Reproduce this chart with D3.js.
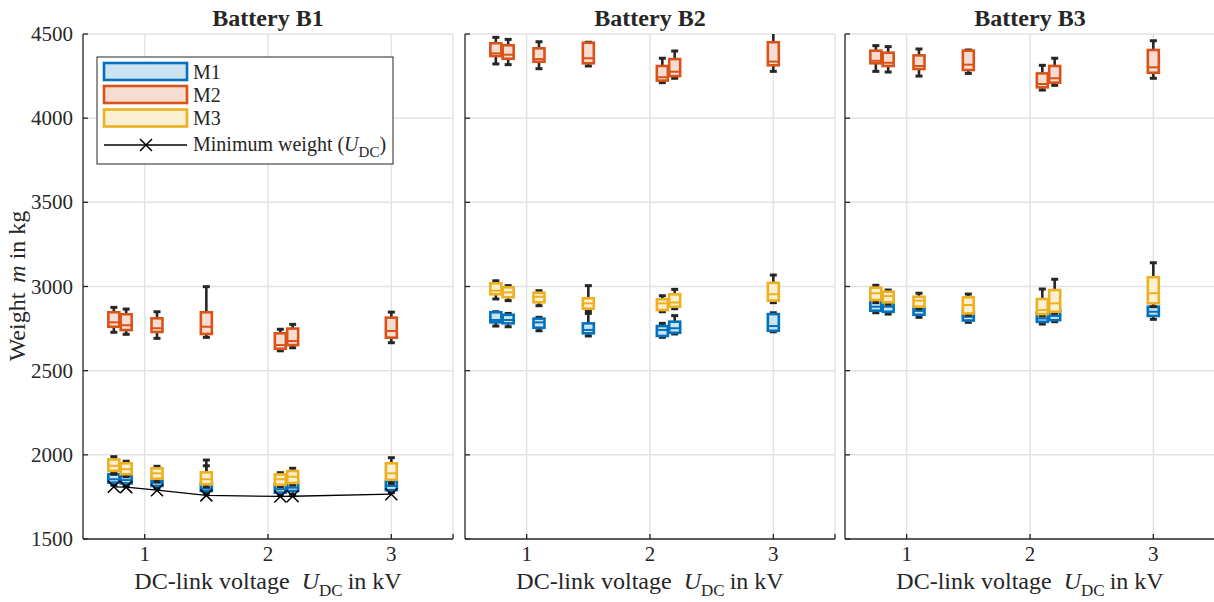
<!DOCTYPE html>
<html>
<head>
<meta charset="utf-8">
<script src="https://cdn.jsdelivr.net/npm/d3@7"></script>
<style>
  body { margin: 0; background: #fff; }
  text { font-family: "Liberation Serif", "Times New Roman", serif; fill: #262626; }
</style>
</head>
<body>
<script>
// DC-link voltages (kV) where each configuration was evaluated
var voltages = [0.75, 0.85, 1.1, 1.5, 2.1, 2.2, 3.0];
var batteries = ["Battery B1", "Battery B2", "Battery B3"];
var models = ["M1", "M2", "M3"];
var xTicks = [1, 2, 3];
var yTicks = [1500, 2000, 2500, 3000, 3500, 4000, 4500];

// box stats per voltage: [whisker low, q1, median, q3, whisker high]
var b1M1 = [[1820,1835,1855,1885,1900],[1815,1830,1850,1875,1890],[1800,1815,1835,1850,1860],
            [1770,1785,1800,1830,1935],[1760,1775,1795,1825,1835],[1765,1785,1805,1835,1850],[1775,1790,1815,1845,1870]];
var b1M2 = [[2728,2761,2787,2847,2876],[2716,2741,2770,2835,2866],[2692,2730,2752,2811,2850],
            [2698,2718,2761,2847,2999],[2618,2630,2652,2722,2746],[2636,2652,2676,2750,2775],[2666,2696,2736,2815,2848]];
var b1M3 = [[1885,1905,1935,1973,1989],[1870,1885,1915,1950,1962],[1840,1858,1890,1920,1932],
            [1810,1825,1855,1896,1969],[1810,1822,1855,1884,1894],[1820,1833,1870,1904,1920],[1830,1852,1890,1950,1983]];
var b2M1 = [[2765,2787,2801,2847,2850],[2761,2781,2801,2832,2840],[2737,2755,2787,2809,2817],
            [2706,2722,2742,2781,2840],[2698,2706,2742,2765,2781],[2718,2725,2752,2791,2827],[2731,2737,2765,2836,2844]];
var b2M2 = [[4322,4369,4385,4445,4480],[4318,4353,4377,4433,4468],[4294,4335,4351,4415,4454],
            [4310,4326,4356,4448,4451],[4211,4223,4243,4310,4356],[4237,4250,4276,4351,4399],[4278,4314,4336,4451,4540]];
var b2M3 = [[2926,2954,2975,3019,3034],[2916,2936,2965,2995,3005],[2886,2906,2939,2963,2975],
            [2856,2868,2900,2930,3005],[2850,2860,2900,2924,2945],[2868,2880,2905,2954,2983],[2904,2916,2954,3022,3068]];
var b3M1 = [[2844,2856,2880,2925,2945],[2836,2850,2880,2915,2930],[2817,2832,2855,2875,2890],
            [2787,2798,2820,2850,2870],[2777,2790,2810,2845,2880],[2791,2800,2825,2860,2880],[2805,2825,2850,2880,2910]];
var b3M2 = [[4278,4326,4341,4401,4431],[4274,4310,4329,4389,4425],[4250,4292,4310,4373,4411],
            [4266,4286,4318,4401,4405],[4167,4183,4203,4266,4314],[4195,4211,4237,4310,4356],[4237,4270,4302,4405,4460]];
var b3M3 = [[2904,2920,2960,2993,3007],[2894,2906,2943,2969,2979],[2868,2880,2916,2939,2960],
            [2830,2840,2890,2936,2955],[2825,2836,2860,2926,2985],[2840,2850,2900,2979,3043],[2880,2900,2960,3055,3141]];
// minimum weight over U_DC (Battery B1 only)
var minWeight = [1810, 1808, 1790, 1759, 1753, 1754, 1766];

var panelData = [[b1M1, b1M2, b1M3], [b2M1, b2M2, b2M3], [b3M1, b3M2, b3M3]];
var edgeColors = ["#0072BD", "#D95319", "#EDB120"];
var fillColors = ["#cce3f2", "#f7ddd1", "#fbefd2"];
var axisColor = "#262626";

var W = 1214, H = 602;
var panelLeft = [83, 465, 845], panelW = 370, plotTop = 34, plotBottom = 539;

var svg = d3.select("body").append("svg")
    .attr("width", W).attr("height", H);

var y = d3.scaleLinear().domain([1500, 4500]).range([plotBottom, plotTop]);

panelData.forEach(function(series, p) {
    var x = d3.scaleLinear().domain([0.5, 3.5]).range([panelLeft[p], panelLeft[p] + panelW]);
    var g = svg.append("g");

    svg.append("clipPath").attr("id", "clip" + p).append("rect")
        .attr("x", x(0.5)).attr("y", plotTop).attr("width", panelW).attr("height", plotBottom - plotTop);

    // grid
    g.selectAll(".gy").data(yTicks.slice(1)).enter().append("line")
        .attr("x1", x(0.5)).attr("x2", x(3.5))
        .attr("y1", function(d) { return y(d); }).attr("y2", function(d) { return y(d); })
        .attr("stroke", "#e3e3e3").attr("stroke-width", 1.5);
    g.selectAll(".gx").data(xTicks.concat([3.5])).enter().append("line")
        .attr("x1", function(d) { return x(d); }).attr("x2", function(d) { return x(d); })
        .attr("y1", plotTop).attr("y2", plotBottom)
        .attr("stroke", "#e3e3e3").attr("stroke-width", 1.5);

    // axes (inward ticks)
    g.append("line").attr("x1", x(0.5)).attr("x2", x(0.5)).attr("y1", plotTop).attr("y2", plotBottom)
        .attr("stroke", axisColor).attr("stroke-width", 1.3);
    g.append("line").attr("x1", x(0.5)).attr("x2", x(3.5)).attr("y1", plotBottom).attr("y2", plotBottom)
        .attr("stroke", axisColor).attr("stroke-width", 1.3);
    g.selectAll(".ty").data(yTicks).enter().append("line")
        .attr("x1", x(0.5)).attr("x2", x(0.5) + 5)
        .attr("y1", function(d) { return y(d); }).attr("y2", function(d) { return y(d); })
        .attr("stroke", axisColor).attr("stroke-width", 1.3);
    g.selectAll(".tx").data(xTicks.concat([3.5])).enter().append("line")
        .attr("x1", function(d) { return x(d); }).attr("x2", function(d) { return x(d); })
        .attr("y1", plotBottom).attr("y2", plotBottom - 5)
        .attr("stroke", axisColor).attr("stroke-width", 1.3);

    g.selectAll(".xl").data(xTicks).enter().append("text")
        .attr("x", function(d) { return x(d); }).attr("y", 561)
        .attr("text-anchor", "middle").attr("font-size", 21)
        .text(function(d) { return d; });
    if (p === 0) {
        g.selectAll(".yl").data(yTicks).enter().append("text")
            .attr("x", x(0.5) - 10).attr("y", function(d) { return y(d) + 7; })
            .attr("text-anchor", "end").attr("font-size", 21)
            .text(function(d) { return d; });
    }

    // x label
    var xl = g.append("text").attr("x", x(2)).attr("y", 589)
        .attr("text-anchor", "middle").attr("font-size", 24);
    xl.append("tspan").text("DC-link voltage");
    xl.append("tspan").attr("dx", 12).attr("font-style", "italic").text("U");
    xl.append("tspan").attr("font-size", 17).attr("dy", 7).text("DC");
    xl.append("tspan").attr("dy", -7).attr("dx", 5).text("in kV");

    // title
    g.append("text").attr("x", x(2)).attr("y", 26)
        .attr("text-anchor", "middle").attr("font-size", 24).attr("font-weight", "bold")
        .text(batteries[p]);

    // boxes
    var bw = 11;
    var plot = g.append("g").attr("clip-path", "url(#clip" + p + ")");
    series.forEach(function(stats, m) {
        var bx = plot.append("g");
        stats.forEach(function(s, i) {
            var cx = x(voltages[i]);
            bx.append("line").attr("x1", cx).attr("x2", cx).attr("y1", y(s[0])).attr("y2", y(s[1]))
                .attr("stroke", axisColor).attr("stroke-width", 2.6);
            bx.append("line").attr("x1", cx).attr("x2", cx).attr("y1", y(s[3])).attr("y2", y(s[4]))
                .attr("stroke", axisColor).attr("stroke-width", 2.6);
            [s[0], s[4]].forEach(function(v) {
                bx.append("line").attr("x1", cx - 3.5).attr("x2", cx + 3.5).attr("y1", y(v)).attr("y2", y(v))
                    .attr("stroke", axisColor).attr("stroke-width", 3);
            });
            bx.append("rect").attr("x", cx - bw / 2).attr("y", y(s[3]))
                .attr("width", bw).attr("height", y(s[1]) - y(s[3]))
                .attr("fill", fillColors[m]).attr("stroke", edgeColors[m]).attr("stroke-width", 2.6);
            bx.append("line").attr("x1", cx - bw / 2).attr("x2", cx + bw / 2)
                .attr("y1", y(s[2])).attr("y2", y(s[2]))
                .attr("stroke", edgeColors[m]).attr("stroke-width", 2);
        });
    });

    if (p === 0) {
        var line = d3.line().x(function(d, i) { return x(voltages[i]); }).y(function(d) { return y(d); });
        g.append("path").datum(minWeight).attr("d", line)
            .attr("fill", "none").attr("stroke", "#000").attr("stroke-width", 1.3);
        g.selectAll(".mk").data(minWeight).enter().append("path")
            .attr("transform", function(d, i) { return "translate(" + x(voltages[i]) + "," + y(d) + ")"; })
            .attr("d", "M-6,-6L6,6M-6,6L6,-6")
            .attr("stroke", "#000").attr("stroke-width", 1.5);
    }
});

// y label
var yl = svg.append("text").attr("transform", "translate(25,286) rotate(-90)")
    .attr("text-anchor", "middle").attr("font-size", 24);
yl.append("tspan").text("Weight");
yl.append("tspan").attr("dx", 10).attr("font-style", "italic").text("m");
yl.append("tspan").attr("dx", 6).text("in kg");

// legend
var lg = svg.append("g");
lg.append("rect").attr("x", 97).attr("y", 57).attr("width", 296).attr("height", 107)
    .attr("fill", "#fff").attr("stroke", axisColor).attr("stroke-width", 1);
var rowY = [71.5, 94.5, 118];
models.forEach(function(name, m) {
    lg.append("rect").attr("x", 104).attr("y", rowY[m] - 8.5).attr("width", 83).attr("height", 17)
        .attr("fill", fillColors[m]).attr("stroke", edgeColors[m]).attr("stroke-width", 2.6);
    lg.append("text").attr("x", 193).attr("y", rowY[m] + 7).attr("font-size", 20).text(name);
});
lg.append("line").attr("x1", 104).attr("x2", 187).attr("y1", 145).attr("y2", 145)
    .attr("stroke", "#000").attr("stroke-width", 1.3);
lg.append("path").attr("transform", "translate(146,145)").attr("d", "M-6,-6L6,6M-6,6L6,-6")
    .attr("stroke", "#000").attr("stroke-width", 1.5);
var lt = lg.append("text").attr("x", 193).attr("y", 151).attr("font-size", 20);
lt.append("tspan").text("Minimum weight (");
lt.append("tspan").attr("font-style", "italic").text("U");
lt.append("tspan").attr("font-size", 15).attr("dy", 6).text("DC");
lt.append("tspan").attr("dy", -6).text(")");
</script>
</body>
</html>
